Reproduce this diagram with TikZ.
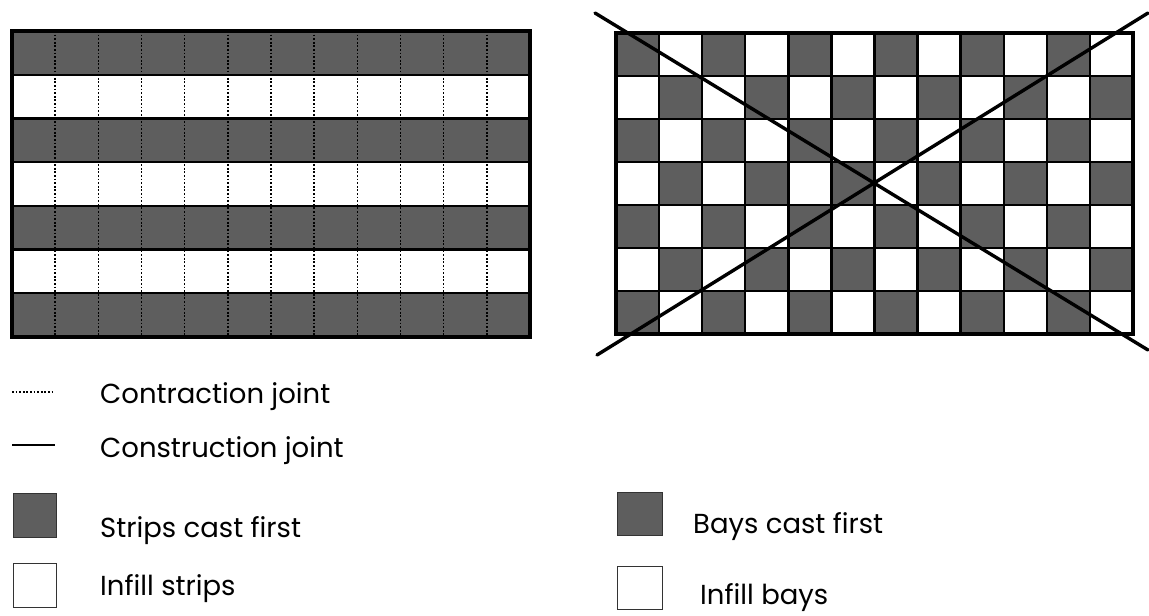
\documentclass[tikz,border=0pt]{standalone}
\usepackage{fontspec}
\setmainfont{Poppins}
\definecolor{cast}{RGB}{94,94,94}
\begin{document}
\begin{tikzpicture}[x=1pt,y=-1pt,
  castfill/.style={fill=cast},
  frame/.style={draw=black,line width=3.2pt},
  joint/.style={draw=black,line width=2.4pt},
  contraction/.style={draw=black,line width=1.4pt,dash pattern=on 1.8pt off 1.8pt},
  diag/.style={draw=black,line width=3.4pt,line cap=round},
  swatch/.style={draw=black!80,line width=1pt},
  lbl/.style={anchor=base west,inner sep=0pt,font=\fontsize{27.5}{30}\selectfont}]
\useasboundingbox[fill=white] (0,0) rectangle (1149,616);
% ---------- left plan: strips ----------
\foreach \i in {0,2,4,6}
  \fill[castfill] (12,{31+\i*43.714}) rectangle (530,{31+(\i+1)*43.714});
\foreach \j in {1,...,11}
  \draw[contraction] ({12+\j*43.167},31) -- ({12+\j*43.167},337);
\foreach \i in {1,...,6}
  \draw[joint] (12,{31+\i*43.714}) -- (530,{31+\i*43.714});
\draw[frame] (12,31) rectangle (530,337);
% ---------- right plan: bays ----------
\foreach \r in {0,...,6}
  \foreach \c in {0,...,11}{
    \pgfmathtruncatemacro\parity{mod(\r+\c,2)}
    \ifnum\parity=0
      \fill[castfill] ({616+\c*43.083},{33+\r*43}) rectangle ({616+(\c+1)*43.083},{33+(\r+1)*43});
    \fi
  }
\foreach \c in {1,...,11}
  \draw[joint] ({616+\c*43.083},33) -- ({616+\c*43.083},334);
\foreach \r in {1,...,6}
  \draw[joint] (616,{33+\r*43}) -- (1133,{33+\r*43});
\draw[frame] (616,33) rectangle (1133,334);
\coordinate (dA1) at (595,13);
\coordinate (dA2) at (1148,350);
\coordinate (dB1) at (597,355);
\coordinate (dB2) at (1148,13);
\draw[diag] (dA1) -- (dA2);
\draw[diag] (dB1) -- (dB2);
% ---------- legend ----------
\coordinate (lc1) at (12,392);
\coordinate (lc2) at (55,392);
\draw[contraction,line width=1.1pt] (lc1) -- (lc2);
\coordinate (ls1) at (12,445);
\coordinate (ls2) at (55,445);
\draw[joint] (ls1) -- (ls2);
\draw[swatch,castfill] (13,493) rectangle (56,537);
\draw[swatch] (13,563) rectangle (56,607);
\draw[swatch,castfill] (617,492) rectangle (662,535);
\draw[swatch] (617,566) rectangle (662,609);
\node[lbl] (tContraction) at (100,403) {Contraction joint};
\node[lbl] (tConstruction) at (100,457) {Construction joint};
\node[lbl] (tStrips) at (100,537) {Strips cast first};
\node[lbl] (tInfillS) at (100,595) {Infill strips};
\node[lbl] (tBays) at (693,533) {Bays cast first};
\node[lbl] (tInfillB) at (700,604) {Infill bays};
\end{tikzpicture}
\end{document}
